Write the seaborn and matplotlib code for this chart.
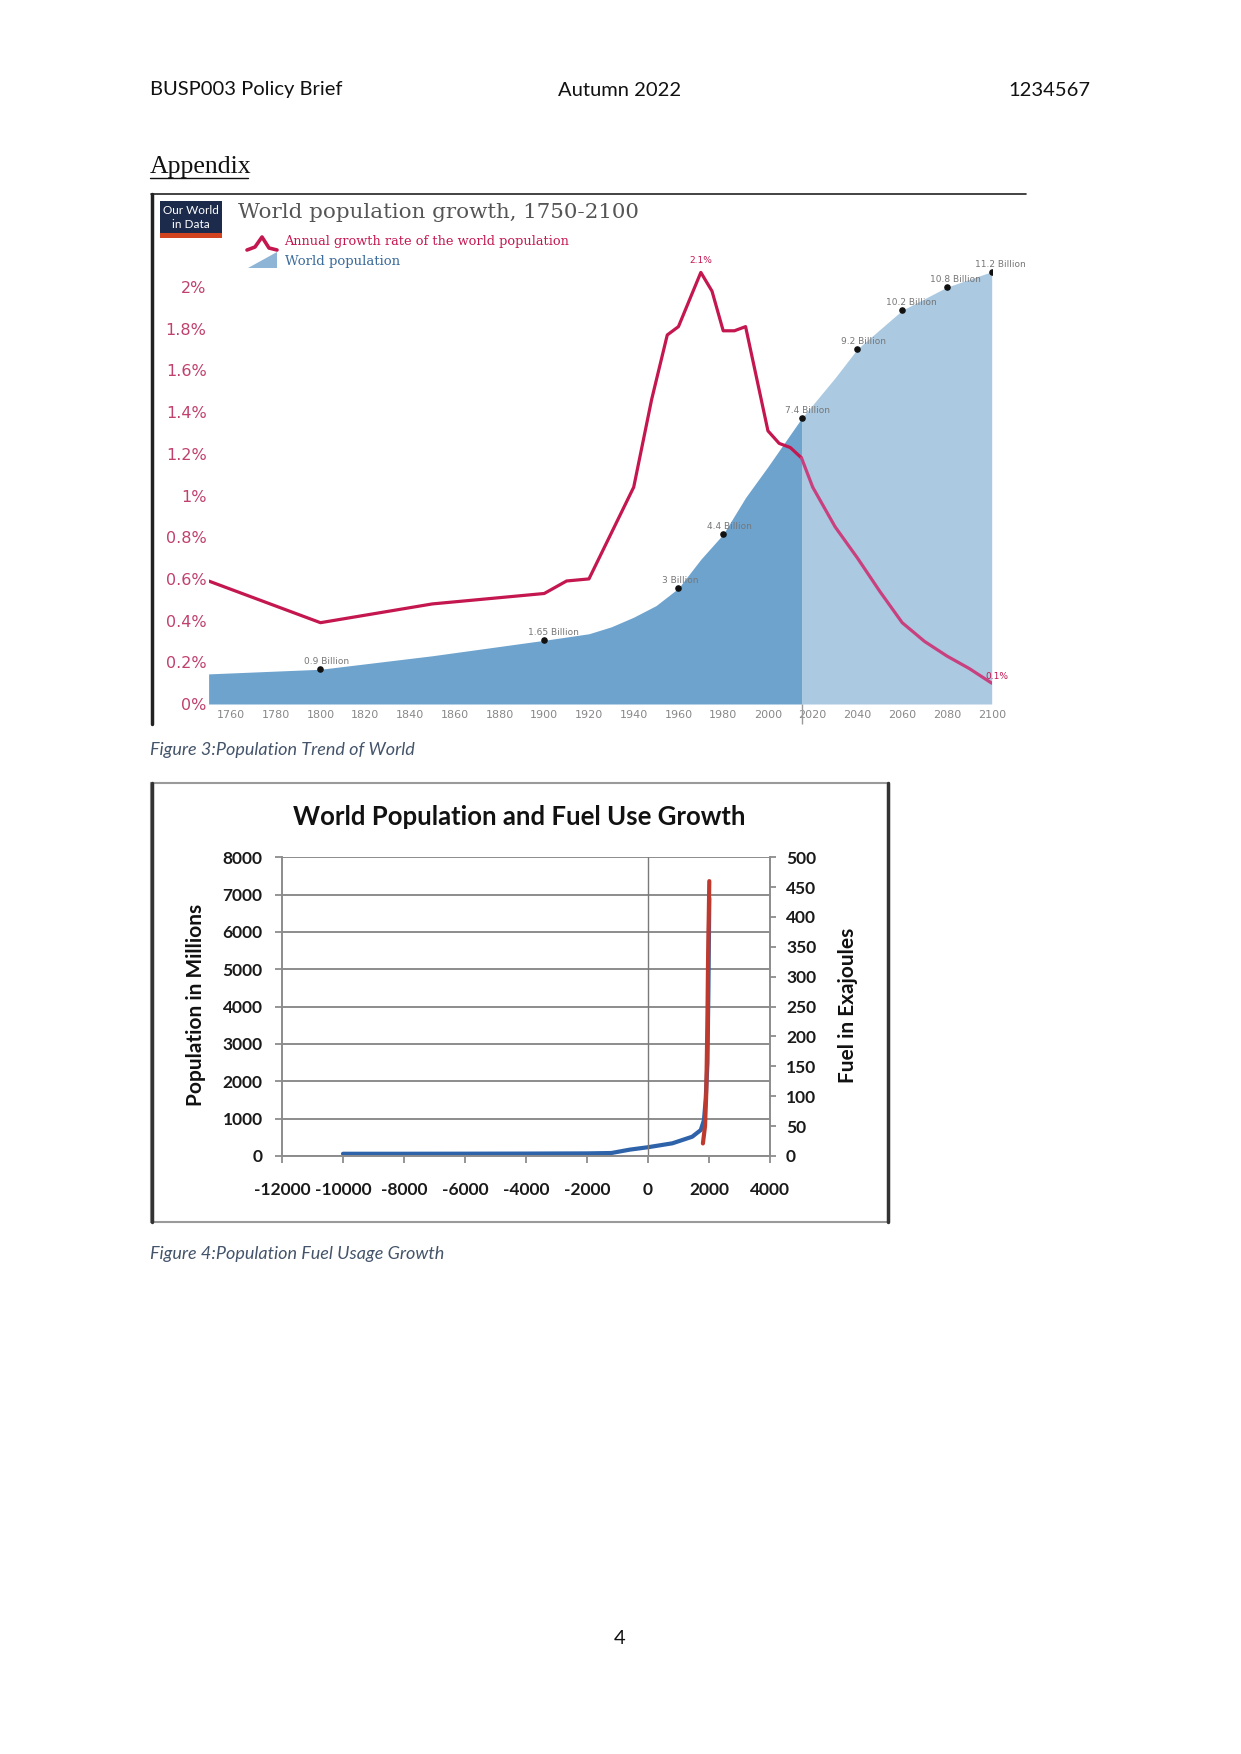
import numpy as np
import pandas as pd
import seaborn as sns
import matplotlib.pyplot as plt
from matplotlib.lines import Line2D
from matplotlib.patches import Rectangle, Polygon

sns.set_theme(style="white")
plt.rcParams['font.family'] = ['Lato', 'DejaVu Sans']
plt.rcParams['axes.unicode_minus'] = False

W, H = 1241, 1754

# figure 3: world population growth 1750-2100
rate_years = [1750, 1800, 1850, 1900, 1910, 1920, 1925, 1940, 1948, 1955, 1960, 1970, 1975,
              1980, 1985, 1990, 2000, 2005, 2010, 2015, 2020, 2030, 2040, 2050, 2060, 2070,
              2080, 2090, 2100]
rate_pct = [0.59, 0.39, 0.48, 0.53, 0.59, 0.60, 0.71, 1.04, 1.46, 1.77, 1.81, 2.07, 1.98,
            1.79, 1.79, 1.81, 1.31, 1.25, 1.23, 1.18, 1.04, 0.85, 0.70, 0.54, 0.39, 0.30,
            0.23, 0.17, 0.10]
pop_years = [1750, 1800, 1850, 1900, 1920, 1930, 1940, 1950, 1960, 1970, 1980, 1990, 2000,
             2015, 2030, 2040, 2050, 2060, 2070, 2080, 2090, 2100]
pop_bn = [0.78, 0.9, 1.25, 1.65, 1.82, 2.0, 2.25, 2.55, 3.0, 3.75, 4.4, 5.35, 6.15,
          7.4, 8.45, 9.2, 9.7, 10.2, 10.5, 10.8, 11.0, 11.2]
mark_years = [1800, 1900, 1960, 1980, 2015, 2040, 2060, 2080, 2100]
mark_bn = [0.9, 1.65, 3, 4.4, 7.4, 9.2, 10.2, 10.8, 11.2]
mark_text = ['0.9 Billion', '1.65 Billion', '3 Billion', '4.4 Billion', '7.4 Billion',
             '9.2 Billion', '10.2 Billion', '10.8 Billion', '11.2 Billion']
split_year = 2015

# figure 4: population and fuel use
hist_years = [-10000, -8000, -6000, -4000, -2000, -1200, -600, 0, 800, 1450, 1730, 1835,
              1890, 1950, 1980, 2010]
hist_pop = [60, 60, 62, 65, 70, 80, 170, 235, 340, 516, 695, 963, 1500, 2500, 4400, 6900]
fuel_years = [1800, 1870, 1910, 1945, 1970, 2010]
fuel_ej = [21, 50, 105, 215, 330, 460]

crimson = '#c4164f'
pink = '#c9407f'
hist_blue = '#6ea3ce'
proj_blue = '#abc9e0'
caption = '#44546a'


def fx(x):
    return x / W


def fy(y):
    return 1 - y / H


def box(l, t, r, b):
    return [l / W, 1 - b / H, (r - l) / W, (b - t) / H]


fig = plt.figure(figsize=(W / 100, H / 100), dpi=100)
fig.patch.set_facecolor('white')

# page header
fig.text(fx(150), fy(90), 'BUSP003 Policy Brief', fontsize=14.5, va='center', color='#111')
fig.text(fx(620), fy(90), 'Autumn 2022', fontsize=14.5, va='center', ha='center', color='#111')
fig.text(fx(1090), fy(90), '1234567', fontsize=14.5, va='center', ha='right', color='#111')
fig.text(fx(150), fy(167), 'Appendix', fontsize=18.5, va='center', color='#111',
         family='Liberation Serif')
fig.add_artist(Line2D([fx(150), fx(248)], [fy(178), fy(178)], color='#111', lw=1))

# ---- figure 3 ----
fig.add_artist(Line2D([fx(152), fx(152)], [fy(194), fy(724)], color='#222', lw=2.5))
fig.add_artist(Line2D([fx(151), fx(1026)], [fy(194), fy(194)], color='#222', lw=1.2))

fig.add_artist(Rectangle((fx(160), fy(238)), fx(62), 37 / H, transform=fig.transFigure,
                         facecolor='#1c2b4b', edgecolor='none'))
fig.add_artist(Rectangle((fx(160), fy(238)), fx(62), 5 / H, transform=fig.transFigure,
                         facecolor='#d2441f', edgecolor='none'))
fig.text(fx(191), fy(210), 'Our World', color='white', fontsize=8.5, ha='center', va='center')
fig.text(fx(191), fy(224), 'in Data', color='white', fontsize=8.5, ha='center', va='center')
fig.text(fx(238), fy(213), 'World population growth, 1750-2100', fontsize=15.4, va='center',
         color='#555', family='DejaVu Serif')
fig.add_artist(Line2D([fx(247), fx(255), fx(262), fx(269), fx(277)],
                      [fy(250), fy(247), fy(237), fy(248), fy(250)], color=crimson, lw=2.6))
fig.text(fx(284), fy(242), 'Annual growth rate of the world population', fontsize=9.3,
         va='center', color=crimson, family='DejaVu Serif')
fig.add_artist(Polygon([[fx(248), fy(268)], [fx(277), fy(268)], [fx(277), fy(252)]],
                       closed=True, transform=fig.transFigure, facecolor='#8fb5d6',
                       edgecolor='none'))
fig.text(fx(285), fy(262), 'World population', fontsize=9.5, va='center', color='#3b6c9c',
         family='DejaVu Serif')

ax_rate = fig.add_axes(box(208.6, 240, 991.7, 704))
ax_pop = ax_rate.twinx()
ax_rate.set_zorder(ax_pop.get_zorder() + 1)
ax_rate.patch.set_visible(False)

pop = pd.DataFrame({'year': pop_years, 'bn': pop_bn})
past = pop[pop['year'] <= split_year]
future = pop[pop['year'] >= split_year]
ax_pop.fill_between(past['year'], 0, past['bn'], color=hist_blue, lw=0)
ax_pop.fill_between(future['year'], 0, future['bn'], color=proj_blue, lw=0)
ax_pop.scatter(mark_years, mark_bn, s=14, color='#111', zorder=5)
for yr, v, t in zip(mark_years, mark_bn, mark_text):
    ax_pop.annotate(t, (yr, v), xytext=(-12, 3.5), textcoords='offset points',
                    fontsize=6.5, color='#777', family='DejaVu Sans')
ax_pop.set_ylim(0, 464 / 38.6)
ax_pop.set_yticks([])

rate = pd.DataFrame({'year': rate_years, 'pct': rate_pct})
sns.lineplot(data=rate[rate['year'] <= split_year], x='year', y='pct', ax=ax_rate,
             color=crimson, lw=2.3)
sns.lineplot(data=rate[rate['year'] >= split_year], x='year', y='pct', ax=ax_rate,
             color=pink, lw=2.3)
ax_rate.annotate('2.1%', (1970, 2.07), xytext=(0, 7), textcoords='offset points',
                 ha='center', fontsize=6.5, color=crimson, family='DejaVu Sans')
ax_rate.annotate('0.1%', (2100, 0.10), xytext=(4, 3), textcoords='offset points',
                 ha='center', fontsize=6.5, color=crimson, family='DejaVu Sans')
ax_rate.vlines(split_year, -20 / 208.5, 0, color='#999', lw=1, clip_on=False)

ax_rate.set_xlim(1750, 2100)
ax_rate.set_ylim(0, 464 / 208.5)
yt = [0, 0.2, 0.4, 0.6, 0.8, 1.0, 1.2, 1.4, 1.6, 1.8, 2.0]
ax_rate.set_yticks(yt)
ax_rate.set_yticklabels(['0%', '0.2%', '0.4%', '0.6%', '0.8%', '1%', '1.2%', '1.4%',
                         '1.6%', '1.8%', '2%'])
ax_rate.set_xticks(list(range(1760, 2101, 20)))
ax_rate.tick_params(axis='y', length=0, pad=1.5, labelsize=11.5, labelcolor='#c0406e')
ax_rate.tick_params(axis='x', length=0, pad=4, labelsize=8, labelcolor='#888')
for lab in ax_rate.get_xticklabels() + ax_rate.get_yticklabels():
    lab.set_family('DejaVu Sans')
ax_rate.set_xlabel('')
ax_rate.set_ylabel('')
for a in (ax_rate, ax_pop):
    for s in a.spines.values():
        s.set_visible(False)

fig.text(fx(150), fy(750), 'Figure 3:Population Trend of World', fontsize=13,
         style='italic', color=caption, va='center')

# ---- figure 4 ----
fig.add_artist(Rectangle((fx(151), fy(1222)), (888.5 - 151) / W, (1222 - 783) / H,
                         transform=fig.transFigure, facecolor='none', edgecolor='#9a9a9a',
                         lw=1.5))
fig.add_artist(Line2D([fx(152), fx(152)], [fy(783), fy(1222)], color='#333', lw=2.5))
fig.add_artist(Line2D([fx(887.5), fx(887.5)], [fy(783), fy(1222)], color='#333', lw=2.5))

ax4 = fig.add_axes(box(282, 857.2, 770, 1156))
sns.lineplot(x=hist_years, y=hist_pop, ax=ax4, color='#2e63aa', lw=3)
ax4.set_xlim(-12000, 4000)
ax4.set_ylim(0, 8000)
ax4.set_yticks(range(0, 8001, 1000))
ax4.set_xticks(range(-12000, 4001, 2000))
ax4.set_xticklabels([str(v) for v in range(-12000, 4001, 2000)])
ax4.yaxis.grid(True, color='#8c8c8c', lw=1.4)
ax4.axvline(0, color='#7a7a7a', lw=1)
ax4.tick_params(axis='y', length=5, direction='out', color='#888', pad=9, labelsize=12.5)
ax4.tick_params(axis='x', length=5, direction='out', color='#888', pad=14, labelsize=12.5)
ax4.tick_params(left=True, bottom=True)
for lab in ax4.get_xticklabels() + ax4.get_yticklabels():
    lab.set_color('#1a1a1a')
    lab.set_fontweight('bold')

ax4r = ax4.twinx()
sns.lineplot(x=fuel_years, y=fuel_ej, ax=ax4r, color='#be3a2e', lw=3)
ax4r.set_ylim(0, 500)
ax4r.set_yticks(range(0, 501, 50))
ax4r.tick_params(axis='y', right=True, length=4, direction='out', color='#888', pad=7.5,
                 labelsize=12.5, labelcolor='#1a1a1a')
for lab in ax4r.get_yticklabels():
    lab.set_fontweight('bold')
for a in (ax4, ax4r):
    a.set_xlabel('')
    a.set_ylabel('')
    a.spines['top'].set_visible(False)
    for s in ('left', 'right', 'bottom'):
        a.spines[s].set_color('#8c8c8c')
        a.spines[s].set_linewidth(1.2)

fig.text(fx(519), fy(817), 'World Population and Fuel Use Growth', fontsize=18.5,
         weight='bold', ha='center', va='center', color='#111')
fig.text(fx(196), fy(1005), 'Population in Millions', fontsize=15, weight='bold',
         rotation=90, ha='center', va='center', color='#111')
fig.text(fx(848), fy(1005), 'Fuel in Exajoules', fontsize=15, weight='bold',
         rotation=90, ha='center', va='center', color='#111')

fig.text(fx(150), fy(1254), 'Figure 4:Population Fuel Usage Growth', fontsize=13,
         style='italic', color=caption, va='center')

fig.text(fx(620), fy(1639), '4', fontsize=14.5, ha='center', va='center', color='#111')

fig.savefig('out.png', dpi=100, facecolor='white')
